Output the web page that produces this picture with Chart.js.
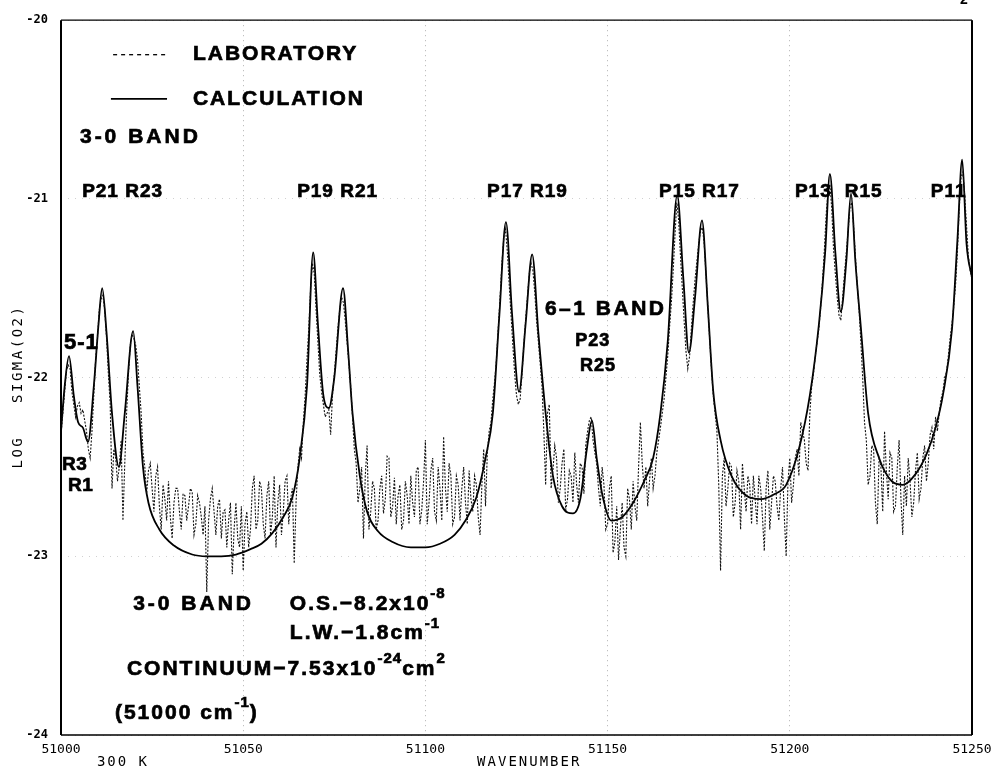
<!doctype html>
<html lang="en">
<head>
<meta charset="utf-8">
<title>O2 3-0 band, log sigma vs wavenumber</title>
<script src="https://cdn.jsdelivr.net/npm/chart.js"></script>
<style>
  html, body { margin: 0; padding: 0; background: #fff; }
  #wrap { width: 1002px; height: 771px; }
</style>
</head>
<body>
<div id="wrap"><canvas id="spectrum" width="1002" height="771"></canvas></div>
<script>
// laboratory trace: readings at whole cm-1 from 51000 to 51250 ...
var labStart = 51000;
var labStep = 1;
var labY = [
  -22.32, -22.08, -21.93, -22.08, -22.22, -22.14, -22.18, -22.30, -22.45, -22.10,
  -21.78, -21.56, -21.62, -21.98, -22.62, -22.45, -22.50, -22.80, -22.20, -21.82,
  -21.78, -21.90, -22.20, -22.50, -22.52, -22.62, -22.55, -22.72, -22.60, -22.80,
  -22.78, -22.70, -22.62, -22.85, -22.66, -22.72, -22.64, -22.82, -22.70, -22.88,
  -23.20, -22.68, -22.75, -22.72, -22.90, -22.74, -22.80, -23.10, -22.70, -22.95,
  -23.08, -22.75, -22.85, -22.55, -22.80, -22.62, -22.90, -22.58, -22.78, -22.95,
  -22.60, -22.75, -22.55, -22.68, -23.04, -22.50, -22.45, -22.10, -21.72, -21.36,
  -21.62, -21.98, -22.15, -22.20, -22.32, -21.98, -21.72, -21.55, -21.68, -21.92,
  -22.22, -22.48, -22.62, -22.90, -22.38, -22.75, -22.62, -22.80, -22.55, -22.68,
  -22.45, -22.72, -22.82, -22.60, -22.80, -22.66, -22.55, -22.78, -22.50, -22.74,
  -22.35, -22.70, -22.45, -22.80, -22.62, -22.33, -22.75, -22.55, -22.78, -22.60,
  -22.62, -22.70, -22.52, -22.75, -22.60, -22.88, -22.40, -22.42, -22.25, -22.02,
  -21.72, -21.36, -21.17, -21.48, -21.82, -22.10, -22.12, -21.82, -21.55, -21.36,
  -21.52, -21.80, -22.05, -22.60, -22.15, -22.52, -22.45, -22.62, -22.40, -22.68,
  -22.55, -22.42, -22.70, -22.50, -22.38, -22.24, -22.35, -22.48, -22.72, -22.60,
  -22.82, -22.55, -22.92, -23.02, -22.70, -23.00, -22.68, -22.58, -22.80, -22.25,
  -22.62, -22.72, -22.45, -22.55, -22.35, -22.20, -22.00, -21.72, -21.40, -21.02,
  -21.32, -21.68, -21.95, -21.72, -21.45, -21.25, -21.16, -21.42, -21.78, -22.10,
  -22.30, -23.08, -22.45, -22.62, -22.50, -22.70, -22.58, -22.48, -22.75, -22.60,
  -22.55, -22.82, -22.62, -22.97, -22.52, -22.70, -22.58, -22.80, -22.50, -23.00,
  -22.45, -22.60, -22.40, -22.25, -22.35, -22.52, -22.05, -21.88, -21.72, -21.45,
  -21.08, -20.92, -21.28, -21.55, -21.68, -21.42, -21.18, -21.02, -21.32, -21.62,
  -22.00, -22.35, -22.55, -22.40, -22.82, -22.50, -22.30, -22.68, -22.45, -22.72,
  -22.35, -22.88, -22.72, -22.58, -22.70, -22.42, -22.62, -22.38, -22.48, -22.28,
  -22.22, -22.20, -22.08, -21.97, -21.78, -21.60, -21.30, -20.88, -20.98, -21.32, -21.45
];
// ... and at the half cm-1 in between (51000.5 ... 51249.5)
var labMidY = [
  -22.20, -21.96, -21.95, -22.15, -22.16, -22.20, -22.24, -22.40, -22.30, -21.90,
  -21.62, -21.54, -21.78, -22.15, -22.40, -22.58, -22.35, -22.48, -21.98, -21.76,
  -21.82, -22.05, -22.42, -22.65, -22.48, -22.75, -22.50, -22.85, -22.68, -22.58,
  -22.90, -22.62, -22.75, -22.65, -22.80, -22.62, -22.88, -22.66, -22.78, -22.72,
  -22.80, -22.62, -22.88, -22.68, -22.75, -22.95, -22.70, -22.85, -22.90, -22.72,
  -22.82, -22.95, -22.62, -22.85, -22.58, -22.82, -22.66, -22.88, -22.55, -22.70,
  -22.88, -22.58, -22.82, -22.62, -22.70, -22.40, -22.25, -21.90, -21.50, -21.42,
  -21.80, -22.08, -22.22, -22.18, -22.10, -21.85, -21.62, -21.58, -21.80, -22.05,
  -22.40, -22.70, -22.50, -22.55, -22.85, -22.58, -22.85, -22.62, -22.76, -22.44,
  -22.78, -22.56, -22.66, -22.85, -22.58, -22.82, -22.70, -22.52, -22.82, -22.58,
  -22.82, -22.52, -22.75, -22.50, -22.80, -22.62, -22.48, -22.82, -22.55, -22.80,
  -22.50, -22.82, -22.68, -22.55, -22.78, -22.60, -22.72, -22.30, -22.12, -21.90,
  -21.55, -21.22, -21.30, -21.65, -21.98, -22.15, -21.98, -21.68, -21.42, -21.40,
  -21.68, -21.92, -22.30, -22.20, -22.62, -22.38, -22.70, -22.48, -22.74, -22.52,
  -22.70, -22.60, -22.48, -22.65, -22.30, -22.22, -22.42, -22.62, -22.50, -22.85,
  -22.62, -22.98, -22.72, -22.85, -22.95, -22.62, -22.85, -22.72, -22.50, -22.48,
  -22.50, -22.58, -22.62, -22.42, -22.28, -22.12, -21.88, -21.58, -21.20, -21.12,
  -21.50, -21.85, -21.88, -21.58, -21.35, -21.18, -21.25, -21.60, -21.95, -22.20,
  -22.60, -22.55, -22.72, -22.48, -22.78, -22.52, -22.85, -22.62, -22.55, -22.82,
  -22.68, -22.55, -22.78, -22.62, -22.85, -22.55, -22.72, -22.62, -22.78, -22.58,
  -22.70, -22.45, -22.55, -22.30, -22.48, -22.20, -21.98, -21.80, -21.60, -21.28,
  -20.96, -21.05, -21.42, -21.65, -21.55, -21.30, -21.05, -21.15, -21.48, -21.80,
  -22.25, -22.60, -22.38, -22.70, -22.45, -22.75, -22.52, -22.42, -22.75, -22.50,
  -22.68, -22.55, -22.45, -22.78, -22.52, -22.68, -22.45, -22.58, -22.32, -22.40,
  -22.30, -22.12, -22.00, -21.88, -21.70, -21.48, -21.05, -20.85, -21.15, -21.40
];

// calculated curve (smooth), read at its turning points
var calcX = [
  51000, 51001, 51002.2, 51003.5, 51004.7, 51006, 51007.4, 51009, 51010.3, 51011.3,
  51012.5, 51014, 51015.9, 51017.5, 51019.8, 51021, 51022.5, 51024, 51027, 51031,
  51036, 51040, 51044, 51048, 51052, 51055, 51058, 51061, 51063.5, 51065.5,
  51067.5, 51069.2, 51070.5, 51072, 51073.5, 51075, 51077.4, 51078.8, 51080, 51082,
  51084, 51087, 51091, 51096, 51100, 51104, 51108, 51111, 51114, 51116.5,
  51118.5, 51120.3, 51122.1, 51123.8, 51125.7, 51127.5, 51129.3, 51131, 51133, 51135,
  51137.5, 51140.5, 51142.5, 51144.3, 51145.7, 51147, 51148.5, 51151, 51154, 51157,
  51160, 51162.5, 51164.5, 51166.5, 51169.1, 51170.8, 51172.3, 51174, 51175.9, 51177.5,
  51179, 51181, 51184, 51188, 51192, 51196, 51199, 51202.5, 51205.5, 51208,
  51209.7, 51211, 51212.5, 51214, 51215.5, 51216.8, 51218, 51219.5, 51221.5, 51224.5,
  51228, 51231, 51234.5, 51237.5, 51240, 51242, 51244.5, 51246, 51247.3, 51248.5,
  51250
];
var calcY = [
  -22.30, -22.05, -21.88, -22.10, -22.25, -22.28, -22.36, -22.05, -21.70, -21.50,
  -21.75, -22.20, -22.50, -22.20, -21.74, -22.05, -22.50, -22.70, -22.85, -22.94,
  -22.99, -23.00, -23.00, -22.99, -22.96, -22.93, -22.87, -22.78, -22.67, -22.45,
  -22.05, -21.30, -21.70, -22.10, -22.17, -22.00, -21.50, -21.85, -22.20, -22.55,
  -22.75, -22.86, -22.92, -22.95, -22.95, -22.93, -22.88, -22.80, -22.67, -22.45,
  -22.20, -21.65, -21.13, -21.65, -22.08, -21.70, -21.31, -21.75, -22.20, -22.55,
  -22.72, -22.76, -22.68, -22.40, -22.24, -22.45, -22.65, -22.80, -22.78, -22.70,
  -22.58, -22.45, -22.20, -21.80, -20.98, -21.45, -21.86, -21.55, -21.12, -21.60,
  -22.08, -22.35, -22.55, -22.66, -22.68, -22.65, -22.60, -22.40, -22.10, -21.70,
  -21.30, -20.86, -21.30, -21.63, -21.35, -20.97, -21.35, -21.72, -22.20, -22.45,
  -22.58, -22.60, -22.54, -22.43, -22.28, -22.10, -21.73, -21.23, -20.78, -21.25,
  -21.44
];

var xTicks = [51000, 51050, 51100, 51150, 51200, 51250];
var yTicks = [-24, -23, -22, -21, -20];

// text written inside the frame, placed in data units; '^' marks a superscript piece
var notes = [
  { at: [51036.2, -20.193], parts: ['LABORATORY'], size: 21, gap: 2 },
  { at: [51036.2, -20.440], parts: ['CALCULATION'], size: 21, gap: 2 },
  { at: [51005.2, -20.656], parts: ['3-0 BAND'], size: 21, gap: 3 },
  { at: [51005.8, -20.959], parts: ['P21 R23'], size: 19, gap: 1 },
  { at: [51064.8, -20.959], parts: ['P19 R21'], size: 19, gap: 1 },
  { at: [51116.9, -20.959], parts: ['P17 R19'], size: 19, gap: 1 },
  { at: [51164.1, -20.959], parts: ['P15 R17'], size: 19, gap: 1 },
  { at: [51201.4, -20.959], parts: ['P13'], size: 19, gap: 1 },
  { at: [51215.1, -20.959], parts: ['R15'], size: 19, gap: 1 },
  { at: [51238.7, -20.959], parts: ['P11'], size: 19, gap: 1 },
  { at: [51000.8, -21.807], parts: ['5-1'], size: 22, gap: 1 },
  { at: [51000.3, -22.485], parts: ['R3'], size: 19, gap: 0.5 },
  { at: [51001.9, -22.606], parts: ['R1'], size: 19, gap: 0.5 },
  { at: [51132.8, -21.620], parts: ['6\u20131 BAND'], size: 21, gap: 2.5 },
  { at: [51141.1, -21.796], parts: ['P23'], size: 18, gap: 1 },
  { at: [51142.4, -21.934], parts: ['R25'], size: 18, gap: 1 },
  { at: [51019.8, -23.267], parts: ['3-0 BAND'], size: 21, gap: 3 },
  { at: [51062.8, -23.267], parts: ['O.S.\u22128.2x10', '^-8'], size: 21, gap: 2 },
  { at: [51062.8, -23.433], parts: ['L.W.\u22121.8cm', '^-1'], size: 21, gap: 2 },
  { at: [51018.1, -23.631], parts: ['CONTINUUM\u22127.53x10', '^-24', 'cm', '^2'], size: 21, gap: 2 },
  { at: [51014.8, -23.879], parts: ['(51000 cm', '^-1', ')'], size: 21, gap: 2 }
];

var FONT = '"Liberation Sans", Arial, Helvetica, sans-serif';
var PLOT = '"DejaVu Sans Mono", monospace';

function drawRich(ctx, parts, x, y, size, gap) {
  var cx = x;
  parts.forEach(function (p) {
    var sup = p.charAt(0) === '^';
    var t = sup ? p.slice(1) : p;
    var fs = sup ? Math.round(size * 0.7) : size;
    var ty = sup ? y - size * 0.48 : y;
    ctx.font = 'bold ' + fs + 'px ' + FONT;
    ctx.letterSpacing = (sup ? 1 : gap) + 'px';
    ctx.fillText(t, cx, ty);
    ctx.strokeText(t, cx, ty); // heavier strokes, like the pen lettering
    cx += ctx.measureText(t).width;
  });
}

var decorations = {
  id: 'decorations',
  afterDraw: function (chart) {
    var ctx = chart.ctx, a = chart.chartArea;
    var xs = chart.scales.x, ys = chart.scales.y;
    ctx.save();
    ctx.fillStyle = '#000';
    ctx.strokeStyle = '#000';

    // frame
    ctx.lineWidth = 2;
    ctx.beginPath();
    ctx.moveTo(a.left, a.top); ctx.lineTo(a.left, a.bottom);
    ctx.moveTo(a.right, a.top); ctx.lineTo(a.right, a.bottom);
    ctx.stroke();
    ctx.lineWidth = 1.3;
    ctx.beginPath();
    ctx.moveTo(a.left, a.top); ctx.lineTo(a.right, a.top);
    ctx.moveTo(a.left, a.bottom); ctx.lineTo(a.right, a.bottom);
    ctx.stroke();

    // legend samples
    var ly1 = ys.getPixelForValue(-20.193), ly2 = ys.getPixelForValue(-20.44);
    ctx.lineWidth = 1.3;
    ctx.setLineDash([4, 4]);
    ctx.beginPath();
    ctx.moveTo(xs.getPixelForValue(51014.3), ly1);
    ctx.lineTo(xs.getPixelForValue(51029.4), ly1);
    ctx.stroke();
    ctx.setLineDash([]);
    ctx.lineWidth = 1.8;
    ctx.beginPath();
    ctx.moveTo(xs.getPixelForValue(51013.7), ly2);
    ctx.lineTo(xs.getPixelForValue(51029.1), ly2);
    ctx.stroke();

    // annotations
    ctx.textAlign = 'left';
    ctx.textBaseline = 'middle';
    ctx.lineWidth = 0.7;
    notes.forEach(function (n) {
      drawRich(ctx, n.parts, xs.getPixelForValue(n.at[0]), ys.getPixelForValue(n.at[1]), n.size, n.gap);
    });

    // axis titles in plotter lettering
    ctx.letterSpacing = '2px';
    ctx.font = '14px ' + PLOT;
    ctx.textAlign = 'center';
    ctx.fillText('WAVENUMBER', xs.getPixelForValue(51128.5), a.bottom + 27);
    ctx.fillText('300 K', xs.getPixelForValue(51017), a.bottom + 27);
    ctx.save();
    ctx.translate(a.left - 43, ys.getPixelForValue(-22.05));
    ctx.rotate(-Math.PI / 2);
    ctx.letterSpacing = '2.5px';
    ctx.fillText('LOG   SIGMA(O2)', 0, 0);
    ctx.restore();

    // clipped figure number at the top corner
    ctx.letterSpacing = '0px';
    ctx.font = 'bold 14px ' + FONT;
    ctx.fillText('2', a.right - 8, 0);
    ctx.restore();
  }
};

var labPoints = [];
labY.forEach(function (v, i) {
  labPoints.push({ x: labStart + i * labStep, y: v });
  if (i < labMidY.length) labPoints.push({ x: labStart + (i + 0.5) * labStep, y: labMidY[i] });
});
var calcPoints = calcX.map(function (v, i) { return { x: v, y: calcY[i] }; });

new Chart(document.getElementById('spectrum'), {
  type: 'line',
  data: {
    datasets: [{
      label: 'LABORATORY',
      data: labPoints,
      borderColor: '#111',
      borderWidth: 1.1,
      borderDash: [2, 1.5],
      pointRadius: 0,
      tension: 0
    }, {
      label: 'CALCULATION',
      data: calcPoints,
      borderColor: '#000',
      borderWidth: 1.8,
      pointRadius: 0,
      cubicInterpolationMode: 'monotone'
    }]
  },
  options: {
    responsive: false,
    animation: false,
    devicePixelRatio: 1,
    layout: { padding: { top: 9, right: 30, left: 0, bottom: 0 } },
    plugins: { legend: { display: false }, tooltip: { enabled: false } },
    scales: {
      x: {
        type: 'linear',
        min: 51000,
        max: 51250,
        afterBuildTicks: function (s) { s.ticks = xTicks.map(function (v) { return { value: v }; }); },
        afterFit: function (s) { s.height = 36; },
        grid: { color: '#b0b0b0', lineWidth: 1, drawTicks: false },
        border: { display: false, dash: [1, 4] },
        ticks: {
          color: '#000',
          padding: 7,
          maxRotation: 0,
          font: { family: PLOT, size: 13 },
          callback: function (v) { return String(v); }
        }
      },
      y: {
        min: -24,
        max: -20,
        afterBuildTicks: function (s) { s.ticks = yTicks.map(function (v) { return { value: v }; }); },
        afterFit: function (s) { s.width = 61; },
        grid: { color: '#d0d0d0', lineWidth: 1, drawTicks: false },
        border: { display: false, dash: [1, 6] },
        ticks: {
          color: '#000',
          padding: 13,
          font: { family: PLOT, size: 12, weight: 'bold' },
          callback: function (v) { return '-' + Math.abs(v); }
        }
      }
    }
  },
  plugins: [decorations]
});
</script>
</body>
</html>
